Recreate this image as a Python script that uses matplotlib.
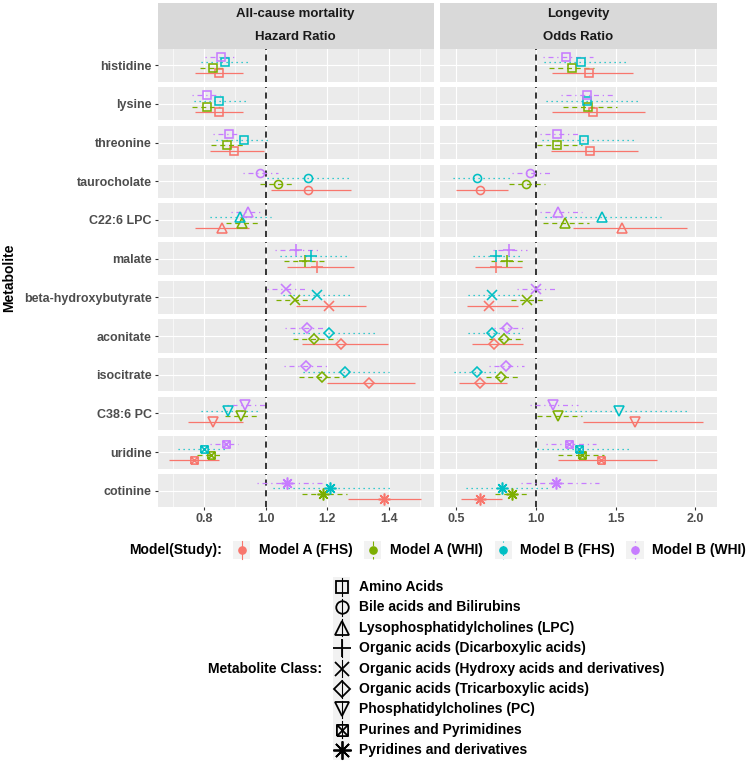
import matplotlib
matplotlib.use("Agg")
import matplotlib.pyplot as plt
from matplotlib.path import Path
from matplotlib.patches import Rectangle

plt.rcParams['font.family'] = ['Liberation Sans', 'DejaVu Sans']
plt.rcParams['font.weight'] = 'bold'

# ---- data ----
metabolites = ["histidine", "lysine", "threonine", "taurocholate", "C22:6 LPC", "malate",
               "beta-hydroxybutyrate", "aconitate", "isocitrate", "C38:6 PC", "uridine", "cotinine"]
met_class = ["Amino Acids", "Amino Acids", "Amino Acids", "Bile acids and Bilirubins",
             "Lysophosphatidylcholines (LPC)", "Organic acids (Dicarboxylic acids)",
             "Organic acids (Hydroxy acids and derivatives)", "Organic acids (Tricarboxylic acids)",
             "Organic acids (Tricarboxylic acids)", "Phosphatidylcholines (PC)",
             "Purines and Pyrimidines", "Pyridines and derivatives"]
class_names = ["Amino Acids", "Bile acids and Bilirubins", "Lysophosphatidylcholines (LPC)",
               "Organic acids (Dicarboxylic acids)", "Organic acids (Hydroxy acids and derivatives)",
               "Organic acids (Tricarboxylic acids)", "Phosphatidylcholines (PC)",
               "Purines and Pyrimidines", "Pyridines and derivatives"]
models = ["Model A (FHS)", "Model A (WHI)", "Model B (FHS)", "Model B (WHI)"]

# all-cause mortality, hazard ratio
hr_a_fhs = [0.848, 0.848, 0.898, 1.138, 0.859, 1.166, 1.207, 1.246, 1.336, 0.828, 0.768, 1.386]
hr_a_fhs_lo = [0.770, 0.770, 0.819, 1.017, 0.770, 1.068, 1.099, 1.119, 1.198, 0.748, 0.685, 1.267]
hr_a_fhs_hi = [0.927, 0.927, 0.995, 1.276, 0.947, 1.286, 1.326, 1.396, 1.486, 0.927, 0.848, 1.504]
hr_a_whi = [0.830, 0.810, 0.873, 1.041, 0.923, 1.128, 1.095, 1.157, 1.182, 0.920, 0.823, 1.187]
hr_a_whi_lo = [0.785, 0.760, 0.822, 0.981, 0.871, 1.060, 1.033, 1.088, 1.109, 0.868, 0.778, 1.117]
hr_a_whi_hi = [0.865, 0.850, 0.927, 1.095, 0.979, 1.200, 1.144, 1.233, 1.255, 0.979, 0.860, 1.263]
hr_b_fhs = [0.869, 0.849, 0.928, 1.138, 0.916, 1.146, 1.166, 1.207, 1.257, 0.878, 0.799, 1.210]
hr_b_fhs_lo = [0.790, 0.767, 0.838, 1.003, 0.819, 1.047, 1.057, 1.088, 1.120, 0.790, 0.716, 1.025]
hr_b_fhs_hi = [0.941, 0.938, 1.006, 1.274, 1.017, 1.263, 1.276, 1.355, 1.402, 0.976, 0.868, 1.410]
hr_b_whi = [0.854, 0.808, 0.880, 0.980, 0.943, 1.098, 1.067, 1.134, 1.131, 0.933, 0.871, 1.068]
hr_b_whi_lo = [0.803, 0.759, 0.828, 0.925, 0.887, 1.030, 1.003, 1.063, 1.060, 0.873, 0.819, 0.971]
hr_b_whi_hi = [0.897, 0.851, 0.911, 1.041, 0.992, 1.169, 1.128, 1.187, 1.198, 0.998, 0.911, 1.182]

# longevity, odds ratio
or_a_fhs = [1.333, 1.360, 1.341, 0.649, 1.540, 0.747, 0.707, 0.738, 0.649, 1.621, 1.410, 0.649]
or_a_fhs_lo = [1.103, 1.103, 1.094, 0.498, 1.234, 0.617, 0.569, 0.600, 0.519, 1.293, 1.140, 0.529]
or_a_fhs_hi = [1.611, 1.682, 1.642, 0.826, 1.945, 0.910, 0.889, 0.916, 0.816, 2.050, 1.761, 0.789]
or_a_whi = [1.224, 1.328, 1.134, 0.939, 1.182, 0.816, 0.946, 0.799, 0.778, 1.136, 1.289, 0.851]
or_a_whi_lo = [1.079, 1.172, 1.004, 0.831, 1.046, 0.716, 0.841, 0.707, 0.686, 1.004, 1.140, 0.743]
or_a_whi_hi = [1.364, 1.506, 1.286, 1.056, 1.334, 0.920, 1.063, 0.910, 0.889, 1.286, 1.429, 0.962]
or_b_fhs = [1.282, 1.320, 1.301, 0.628, 1.412, 0.747, 0.726, 0.726, 0.630, 1.523, 1.272, 0.787]
or_b_fhs_lo = [1.050, 1.061, 1.035, 0.477, 1.056, 0.607, 0.575, 0.575, 0.486, 1.182, 1.004, 0.561]
or_b_fhs_hi = [1.565, 1.642, 1.621, 0.837, 1.782, 0.910, 0.910, 0.904, 0.774, 1.949, 1.590, 1.088]
or_b_whi = [1.188, 1.318, 1.134, 0.962, 1.140, 0.831, 0.998, 0.818, 0.810, 1.104, 1.209, 1.123]
or_b_whi_lo = [1.042, 1.157, 1.025, 0.848, 1.025, 0.732, 0.879, 0.737, 0.707, 0.962, 1.063, 0.904]
or_b_whi_hi = [1.360, 1.481, 1.272, 1.088, 1.286, 0.945, 1.119, 0.931, 0.925, 1.266, 1.376, 1.397]

panels = [
    ("All-cause mortality", "Hazard Ratio",
     [(hr_a_fhs, hr_a_fhs_lo, hr_a_fhs_hi), (hr_a_whi, hr_a_whi_lo, hr_a_whi_hi),
      (hr_b_fhs, hr_b_fhs_lo, hr_b_fhs_hi), (hr_b_whi, hr_b_whi_lo, hr_b_whi_hi)],
     (0.649, 1.546), [0.8, 1.0, 1.2, 1.4], [0.7, 0.9, 1.1, 1.3, 1.5]),
    ("Longevity", "Odds Ratio",
     [(or_a_fhs, or_a_fhs_lo, or_a_fhs_hi), (or_a_whi, or_a_whi_lo, or_a_whi_hi),
      (or_b_fhs, or_b_fhs_lo, or_b_fhs_hi), (or_b_whi, or_b_whi_lo, or_b_whi_hi)],
     (0.398, 2.134), [0.5, 1.0, 1.5, 2.0], [0.75, 1.25, 1.75]),
]

# ---- styling ----
colors = ["#F8766D", "#7CAE00", "#00BFC4", "#C77CFF"]
linestyles = ["-", (0, (4, 3)), (0, (1, 3)), (0, (1, 3, 4, 3))]
dodge = [-0.3, -0.1, 0.1, 0.3]

M, L = Path.MOVETO, Path.LINETO
square_x = Path([(-1, -1), (1, -1), (1, 1), (-1, 1), (-1, -1), (-1, -1), (1, 1), (-1, 1), (1, -1)],
                [M, L, L, L, L, M, L, M, L])
shapes = {
    "Amino Acids": ("s", 5.2),
    "Bile acids and Bilirubins": ("o", 5.8),
    "Lysophosphatidylcholines (LPC)": ("^", 6.8),
    "Organic acids (Dicarboxylic acids)": ("+", 8.5),
    "Organic acids (Hydroxy acids and derivatives)": ("x", 6.5),
    "Organic acids (Tricarboxylic acids)": ("D", 5.2),
    "Phosphatidylcholines (PC)": ("v", 6.8),
    "Purines and Pyrimidines": (square_x, 5.2),
    "Pyridines and derivatives": ((8, 2, 0), 8.5),
}

W, H = 750, 761
fig = plt.figure(figsize=(W / 100, H / 100), dpi=100)


def box(x0, y0, x1, y1):
    return [x0 / W, 1 - y1 / H, (x1 - x0) / W, (y1 - y0) / H]


# overlay axes in pixel units for the legends
lg = fig.add_axes([0, 0, 1, 1])
lg.set_xlim(0, W)
lg.set_ylim(H, 0)
lg.axis("off")

panel_x = [(157.7, 433.7), (440.0, 716.7)]
top0, row_h, gap = 48.5, 33.2, 5.5
tick_len = 2.2

for c, (title1, title2, series, xlim, major, minor) in enumerate(panels):
    x0, x1 = panel_x[c]
    # strip
    sax = fig.add_axes(box(x0, 3, x1, top0))
    sax.set_facecolor("#D9D9D9")
    sax.set_xticks([]); sax.set_yticks([])
    for s in sax.spines.values():
        s.set_visible(False)
    sax.text(0.5, 0.75, title1, ha="center", va="center", fontsize=9.5, color="#1A1A1A",
             transform=sax.transAxes)
    sax.text(0.5, 0.25, title2, ha="center", va="center", fontsize=9.5, color="#1A1A1A",
             transform=sax.transAxes)

    for r, name in enumerate(metabolites):
        y0 = top0 + r * (row_h + gap)
        ax = fig.add_axes(box(x0, y0, x1, y0 + row_h))
        ax.set_facecolor("#EBEBEB")
        for s in ax.spines.values():
            s.set_visible(False)
        ax.set_xlim(*xlim)
        ax.set_ylim(-0.6, 0.6)
        ax.set_xticks(major)
        ax.set_xticks(minor, minor=True)
        ax.set_yticks([0])
        ax.set_axisbelow(True)
        ax.grid(which="major", color="white", lw=0.85)
        ax.grid(which="minor", axis="x", color="white", lw=0.45)
        ax.tick_params(which="minor", length=0)
        ax.tick_params(axis="x", which="major", length=0, labelbottom=False)
        ax.tick_params(axis="y", length=0, labelleft=False)
        if c == 0:
            ax.set_yticklabels([name])
            ax.tick_params(axis="y", length=tick_len, width=0.8, color="#333333",
                           labelleft=True, labelsize=9, labelcolor="#4D4D4D", pad=2)
        if r == len(metabolites) - 1:
            ax.set_xticklabels([f"{v:.1f}" for v in major])
            ax.tick_params(axis="x", which="major", length=tick_len, width=0.8, color="#333333",
                           labelbottom=True, labelsize=9, labelcolor="#4D4D4D", pad=2)

        ax.axvline(1.0, color="black", lw=1.1, ls=(0, (4, 3)), zorder=2)
        mk, ms = shapes[met_class[r]]
        for k, (est, lo, hi) in enumerate(series):
            yk = dodge[k]
            ax.plot([lo[r], hi[r]], [yk, yk], color=colors[k], lw=0.9, ls=linestyles[k],
                    zorder=3, solid_capstyle="butt")
            ax.plot([est[r]], [yk], marker=mk, ms=ms, mfc="none", mec=colors[k], mew=1.15,
                    ls="none", zorder=4)

fig.text(9 / W, 1 - 278 / H, "Metabolite", rotation=90, ha="center", va="center", fontsize=10)

# ---- legend: Model(Study) ----
key_bg = "#F2F2F2"
ly = 550
lg.text(222, ly, "Model(Study):", ha="right", va="center", fontsize=10, color="black")
model_key_x = [241.7, 372.7, 503.3, 635.0]
for k, name in enumerate(models):
    kx = model_key_x[k]
    lg.add_patch(Rectangle((kx - 8.6, ly - 8.6), 17.2, 17.2, color=key_bg, lw=0))
    lg.plot([kx, kx], [ly - 8.6, ly + 8.6], color=colors[k], lw=0.8, ls=linestyles[k])
    lg.plot([kx], [ly], marker="o", ms=5.2, color=colors[k], ls="none")
    lg.text(kx + 17, ly, name, ha="left", va="center", fontsize=10, color="black")

# ---- legend: Metabolite Class ----
cy0, cstep, ckx = 587, 20.4, 341.7
lg.text(322, cy0 + cstep * (len(class_names) - 1) / 2, "Metabolite Class:", ha="right",
        va="center", fontsize=10, color="black")
for i, cname in enumerate(class_names):
    cy = cy0 + i * cstep
    lg.add_patch(Rectangle((ckx - 8.6, cy - cstep / 2), 17.2, cstep, color=key_bg, lw=0))
    lg.plot([ckx, ckx], [cy - 8.6, cy + 8.6], color="black", lw=0.8)
    mk, ms = shapes[cname]
    lg.plot([ckx], [cy], marker=mk, ms=ms * 1.55, mfc="none", mec="black", mew=1.3, ls="none")
    lg.text(ckx + 17.5, cy, cname, ha="left", va="center", fontsize=10, color="black")

fig.savefig("out.png", dpi=100, facecolor="white")
